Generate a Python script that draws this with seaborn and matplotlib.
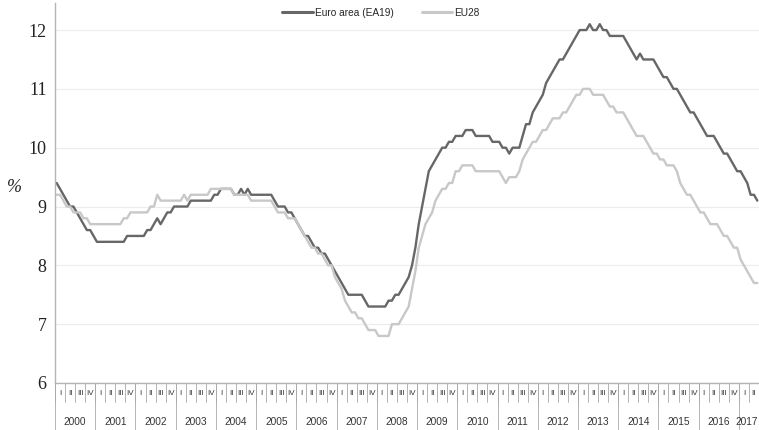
#!/usr/bin/env python3

import numpy as np
import pandas as pd
import seaborn as sns
import matplotlib.pyplot as plt
from matplotlib.lines import Line2D

# Monthly unemployment rate (%), Jan 2000 - Jun 2017
ea19 = [
    9.4, 9.3, 9.2, 9.1, 9.0, 9.0, 8.9, 8.8, 8.7, 8.6, 8.6, 8.5,          # 2000
    8.4, 8.4, 8.4, 8.4, 8.4, 8.4, 8.4, 8.4, 8.4, 8.5, 8.5, 8.5,          # 2001
    8.5, 8.5, 8.5, 8.6, 8.6, 8.7, 8.8, 8.7, 8.8, 8.9, 8.9, 9.0,          # 2002
    9.0, 9.0, 9.0, 9.0, 9.1, 9.1, 9.1, 9.1, 9.1, 9.1, 9.1, 9.2,          # 2003
    9.2, 9.3, 9.3, 9.3, 9.3, 9.2, 9.2, 9.3, 9.2, 9.3, 9.2, 9.2,          # 2004
    9.2, 9.2, 9.2, 9.2, 9.2, 9.1, 9.0, 9.0, 9.0, 8.9, 8.9, 8.8,          # 2005
    8.7, 8.6, 8.5, 8.5, 8.4, 8.3, 8.3, 8.2, 8.2, 8.1, 8.0, 7.9,          # 2006
    7.8, 7.7, 7.6, 7.5, 7.5, 7.5, 7.5, 7.5, 7.4, 7.3, 7.3, 7.3,          # 2007
    7.3, 7.3, 7.3, 7.4, 7.4, 7.5, 7.5, 7.6, 7.7, 7.8, 8.0, 8.3,          # 2008
    8.7, 9.0, 9.3, 9.6, 9.7, 9.8, 9.9, 10.0, 10.0, 10.1, 10.1, 10.2,     # 2009
    10.2, 10.2, 10.3, 10.3, 10.3, 10.2, 10.2, 10.2, 10.2, 10.2, 10.1, 10.1,  # 2010
    10.1, 10.0, 10.0, 9.9, 10.0, 10.0, 10.0, 10.2, 10.4, 10.4, 10.6, 10.7,   # 2011
    10.8, 10.9, 11.1, 11.2, 11.3, 11.4, 11.5, 11.5, 11.6, 11.7, 11.8, 11.9,  # 2012
    12.0, 12.0, 12.0, 12.1, 12.0, 12.0, 12.1, 12.0, 12.0, 11.9, 11.9, 11.9,  # 2013
    11.9, 11.9, 11.8, 11.7, 11.6, 11.5, 11.6, 11.5, 11.5, 11.5, 11.5, 11.4,  # 2014
    11.3, 11.2, 11.2, 11.1, 11.0, 11.0, 10.9, 10.8, 10.7, 10.6, 10.6, 10.5,  # 2015
    10.4, 10.3, 10.2, 10.2, 10.2, 10.1, 10.0, 9.9, 9.9, 9.8, 9.7, 9.6,       # 2016
    9.6, 9.5, 9.4, 9.2, 9.2, 9.1,                                            # 2017
]

eu28 = [
    9.2, 9.2, 9.1, 9.0, 9.0, 8.9, 8.9, 8.9, 8.8, 8.8, 8.7, 8.7,          # 2000
    8.7, 8.7, 8.7, 8.7, 8.7, 8.7, 8.7, 8.7, 8.8, 8.8, 8.9, 8.9,          # 2001
    8.9, 8.9, 8.9, 8.9, 9.0, 9.0, 9.2, 9.1, 9.1, 9.1, 9.1, 9.1,          # 2002
    9.1, 9.1, 9.2, 9.1, 9.2, 9.2, 9.2, 9.2, 9.2, 9.2, 9.3, 9.3,          # 2003
    9.3, 9.3, 9.3, 9.3, 9.3, 9.2, 9.2, 9.2, 9.2, 9.2, 9.1, 9.1,          # 2004
    9.1, 9.1, 9.1, 9.1, 9.1, 9.0, 8.9, 8.9, 8.9, 8.8, 8.8, 8.8,          # 2005
    8.7, 8.6, 8.5, 8.4, 8.3, 8.3, 8.2, 8.2, 8.1, 8.0, 8.0, 7.8,          # 2006
    7.7, 7.6, 7.4, 7.3, 7.2, 7.2, 7.1, 7.1, 7.0, 6.9, 6.9, 6.9,          # 2007
    6.8, 6.8, 6.8, 6.8, 7.0, 7.0, 7.0, 7.1, 7.2, 7.3, 7.6, 7.9,          # 2008
    8.3, 8.5, 8.7, 8.8, 8.9, 9.1, 9.2, 9.3, 9.3, 9.4, 9.4, 9.6,          # 2009
    9.6, 9.7, 9.7, 9.7, 9.7, 9.6, 9.6, 9.6, 9.6, 9.6, 9.6, 9.6,          # 2010
    9.6, 9.5, 9.4, 9.5, 9.5, 9.5, 9.6, 9.8, 9.9, 10.0, 10.1, 10.1,       # 2011
    10.2, 10.3, 10.3, 10.4, 10.5, 10.5, 10.5, 10.6, 10.6, 10.7, 10.8, 10.9,  # 2012
    10.9, 11.0, 11.0, 11.0, 10.9, 10.9, 10.9, 10.9, 10.8, 10.7, 10.7, 10.6,  # 2013
    10.6, 10.6, 10.5, 10.4, 10.3, 10.2, 10.2, 10.2, 10.1, 10.0, 9.9, 9.9,    # 2014
    9.8, 9.8, 9.7, 9.7, 9.7, 9.6, 9.4, 9.3, 9.2, 9.2, 9.1, 9.0,          # 2015
    8.9, 8.9, 8.8, 8.7, 8.7, 8.7, 8.6, 8.5, 8.5, 8.4, 8.3, 8.3,          # 2016
    8.1, 8.0, 7.9, 7.8, 7.7, 7.7,                                        # 2017
]

years = list(range(2000, 2018))
quarters = ["I", "II", "III", "IV"]
series_names = ["Euro area (EA19)", "EU28"]
colors = ["#676767", "#c8c8c8"]


def main():
    n = len(ea19)
    df = pd.DataFrame({
        "month": list(range(n)) * 2,
        "rate": ea19 + eu28,
        "series": [series_names[0]] * n + [series_names[1]] * n,
    })

    sns.set_theme(style="white")
    plt.rcParams["font.family"] = ["Liberation Sans", "DejaVu Sans"]

    fig = plt.figure(figsize=(7.59, 4.30), dpi=100)
    ax = fig.add_axes([55 / 759, 47 / 430, 704 / 759, 380 / 430])

    sns.lineplot(data=df, x="month", y="rate", hue="series",
                 palette=dict(zip(series_names, colors)),
                 linewidth=1.7, legend=False, ax=ax)

    ax.set_xlim(-0.5, n - 0.5)
    ax.set_ylim(6, 12.46)
    ax.set_yticks(range(6, 13))
    ax.set_yticklabels([str(v) for v in range(6, 13)],
                       family="Liberation Serif", fontsize=13, color="#222222")
    ax.tick_params(axis="y", length=0, pad=6)
    ax.grid(axis="y", color="#ececec", linewidth=0.8)
    ax.set_axisbelow(True)

    # monthly ticks
    ax.set_xticks(np.arange(n) - 0.5)
    ax.set_xticklabels([])
    ax.tick_params(axis="x", direction="out", length=4.5, width=0.6,
                   color="#9a9a9a")
    ax.set_xlabel("")
    ax.set_ylabel("")
    ax.text(-0.058, 0.515, "%", transform=ax.transAxes, family="Liberation Serif",
            style="italic", fontsize=13, ha="center", va="center",
            color="#222222")

    for side in ["top", "right"]:
        ax.spines[side].set_visible(False)
    for side in ["left", "bottom"]:
        ax.spines[side].set_color("#b5b5b5")
        ax.spines[side].set_linewidth(1.0)

    # multi-level category axis: quarters and years
    trans = ax.get_xaxis_transform()
    n_q = int(np.ceil(n / 3))
    for q in range(n_q):
        start = q * 3 - 0.5
        end = min(start + 3, n - 0.5)
        ax.plot([start, start], [0, -0.05], transform=trans, clip_on=False,
                color="#a8a8a8", linewidth=0.6)
        ax.text((start + end) / 2, -0.027, quarters[q % 4], transform=trans,
                ha="center", va="center", fontsize=5.8, color="#333333",
                clip_on=False)
    for i, yr in enumerate(years):
        start = i * 12 - 0.5
        end = min(start + 12, n - 0.5)
        ax.plot([start, start], [0, -0.125], transform=trans, clip_on=False,
                color="#a8a8a8", linewidth=0.6)
        if end - start >= 12:
            ax.text((start + end) / 2, -0.103, str(yr), transform=trans,
                    ha="center", va="center", fontsize=7.3, color="#333333",
                    clip_on=False)
        else:
            ax.text(end - 0.3, -0.103, str(yr), transform=trans,
                    ha="right", va="center", fontsize=7.3, color="#333333",
                    clip_on=False)

    handles = [Line2D([0], [0], color=c, linewidth=2.2) for c in colors]
    ax.legend(handles, series_names, loc="upper center",
              bbox_to_anchor=(0.463, 1.012), ncol=2, frameon=False,
              fontsize=7.3, handlelength=3.0, handletextpad=0.2,
              columnspacing=2.8)

    fig.savefig("out.png", dpi=100)
    plt.close(fig)


if __name__ == "__main__":
    main()
